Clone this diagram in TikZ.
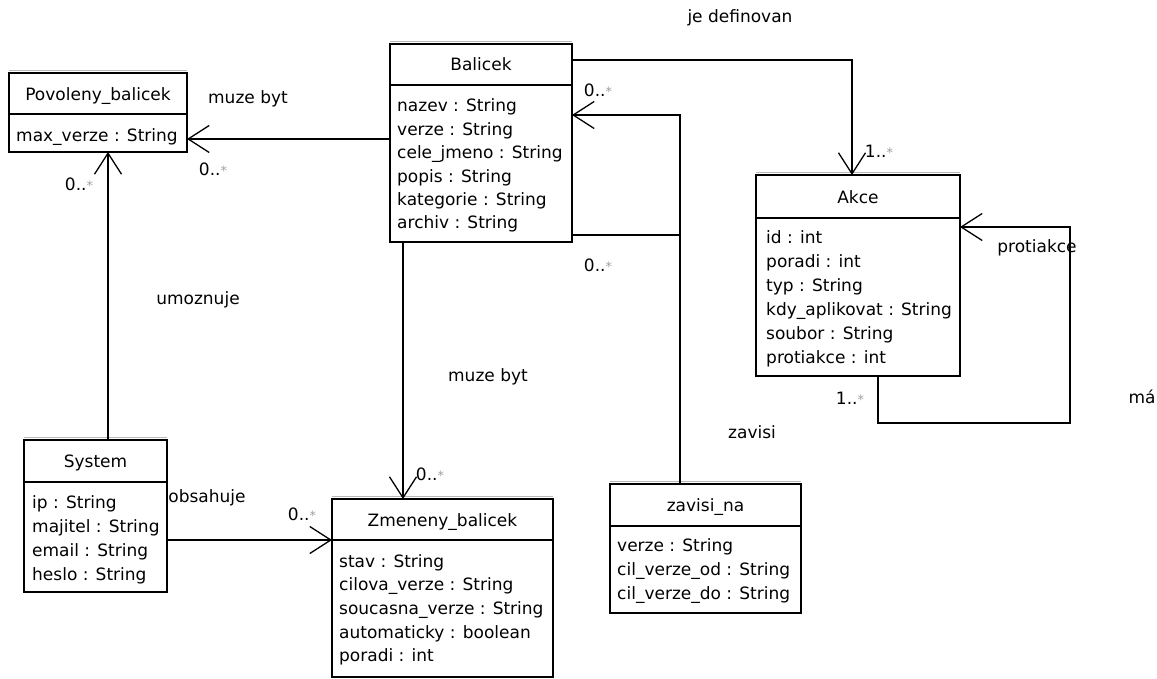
\documentclass[tikz,border=0pt]{standalone}
\usepackage{fontspec}
\setmainfont{DejaVu Sans}
\usetikzlibrary{arrows.meta,calc}
\newcommand\txtfont{\fontsize{17}{20}\selectfont}
\newcommand\mstar{{\color{gray!75}\fontsize{13}{13}\selectfont *}}
\newcommand\mkclass[6]{%
  \node[cls, minimum width=#4pt, minimum height=#5pt] (#1) at (#2,#3) {};
  \draw[gray!55, line width=0.8pt] ([yshift=2.2pt]#1.north west) -- ([yshift=2.2pt]#1.north east);
  \draw[line width=1.3pt] ([yshift=-#6pt]#1.north west) -- ([yshift=-#6pt]#1.north east);
}
\newcommand\mkattrs[5]{%
  \foreach \t [count=\i from 0] in {#5} {\node[attr] (#1-a\i) at (#2,{#3+\i*#4}) {\t};}
}
\tikzset{
  cls/.style={draw, line width=1.3pt, inner sep=0pt, outer sep=0pt, anchor=north west},
  ttl/.style={anchor=base, font=\txtfont, inner sep=0pt},
  attr/.style={anchor=base west, font=\txtfont, inner sep=0pt},
  lbl/.style={font=\txtfont, inner sep=0pt},
  plain/.style={line width=1.3pt},
  assoc/.style={line width=1.3pt, -{Straight Barb[length=21pt,width=27pt,line width=1.3pt]}},
}
\begin{document}
\begin{tikzpicture}[x=1pt,y=-1pt]
\useasboundingbox (0,0) rectangle (1157,679);

% classes
\mkclass{pov}{9}{73}{178}{79}{41}
\node[ttl] (pov-t) at (98,100.7) {Povoleny\_balicek};
\mkattrs{pov}{16}{141.7}{24}{max\_verze : String}

\mkclass{bal}{390}{44}{182}{198}{41}
\node[ttl] (bal-t) at (481,71) {Balicek};
\mkattrs{bal}{397}{112}{23.4}{nazev : String, verze : String, cele\_jmeno : String, popis : String, kategorie : String, archiv : String}

\mkclass{akce}{756}{175}{204}{201}{43}
\node[ttl] (akce-t) at (858,203.3) {Akce};
\mkattrs{akce}{766}{243.3}{24}{id : int, poradi : int, typ : String, kdy\_aplikovat : String, soubor : String, protiakce : int}

\mkclass{sys}{24}{440}{143}{152}{42}
\node[ttl] (sys-t) at (95.5,467.3) {System};
\mkattrs{sys}{32}{508.3}{23.9}{ip : String, majitel : String, email : String, heslo : String}

\mkclass{zme}{332}{499}{221}{178}{41}
\node[ttl] (zme-t) at (442.5,526.7) {Zmeneny\_balicek};
\mkattrs{zme}{339}{567.3}{23.6}{stav : String, cilova\_verze : String, soucasna\_verze : String, automaticky : boolean, poradi : int}

\mkclass{zav}{610}{484}{191}{129}{42}
\node[ttl] (zav-t) at (705.5,511.7) {zavisi\_na};
\mkattrs{zav}{617}{551.7}{24}{verze : String, cil\_verze\_od : String, cil\_verze\_do : String}

% connectors
\draw[assoc] (bal.west |- 0,139) -- (pov.east |- 0,139);
\draw[assoc] (sys.north -| 108,0) -- (pov.south -| 108,0);
\draw[assoc] (bal.east |- 0,60) -- (852,60) -- (akce.north -| 852,0);
\coordinate (zbend) at (680,115);
\draw[assoc] (zav.north -| 680,0) -- (zbend) -- (bal.east |- zbend);
\draw[plain] (bal.east |- 0,235) -- (680,235);
\draw[assoc] (bal.south -| 403,0) -- (zme.north -| 403,0);
\draw[assoc] (sys.east |- 0,540) -- (zme.west |- 0,540);
\draw[assoc] (akce.south -| 878,0) -- (878,423) -- (1070,423) -- (1070,227) -- (akce.east |- 0,227);

% labels
\node[lbl] (l1) at (740,18) {je definovan};
\node[lbl] (l2) at (248,99) {muze byt};
\node[lbl] (l3) at (213,169) {0..\mstar};
\node[lbl] (l4) at (79,184) {0..\mstar};
\node[lbl] (l5) at (198,300) {umoznuje};
\node[lbl] (l6) at (598,90) {0..\mstar};
\node[lbl] (l7) at (879,151) {1..\mstar};
\node[lbl] (l8) at (598,265) {0..\mstar};
\node[lbl] (l9) at (488,377) {muze byt};
\node[lbl] (l10) at (752,432) {zavisi};
\node[lbl] (l11) at (1037,248) {protiakce};
\node[lbl] (l12) at (850,398) {1..\mstar};
\node[lbl] (l13) at (1142,397) {má};
\node[lbl] (l14) at (207,498) {obsahuje};
\node[lbl] (l15) at (302,514) {0..\mstar};
\node[lbl] (l16) at (430,474) {0..\mstar};
\end{tikzpicture}
\end{document}
